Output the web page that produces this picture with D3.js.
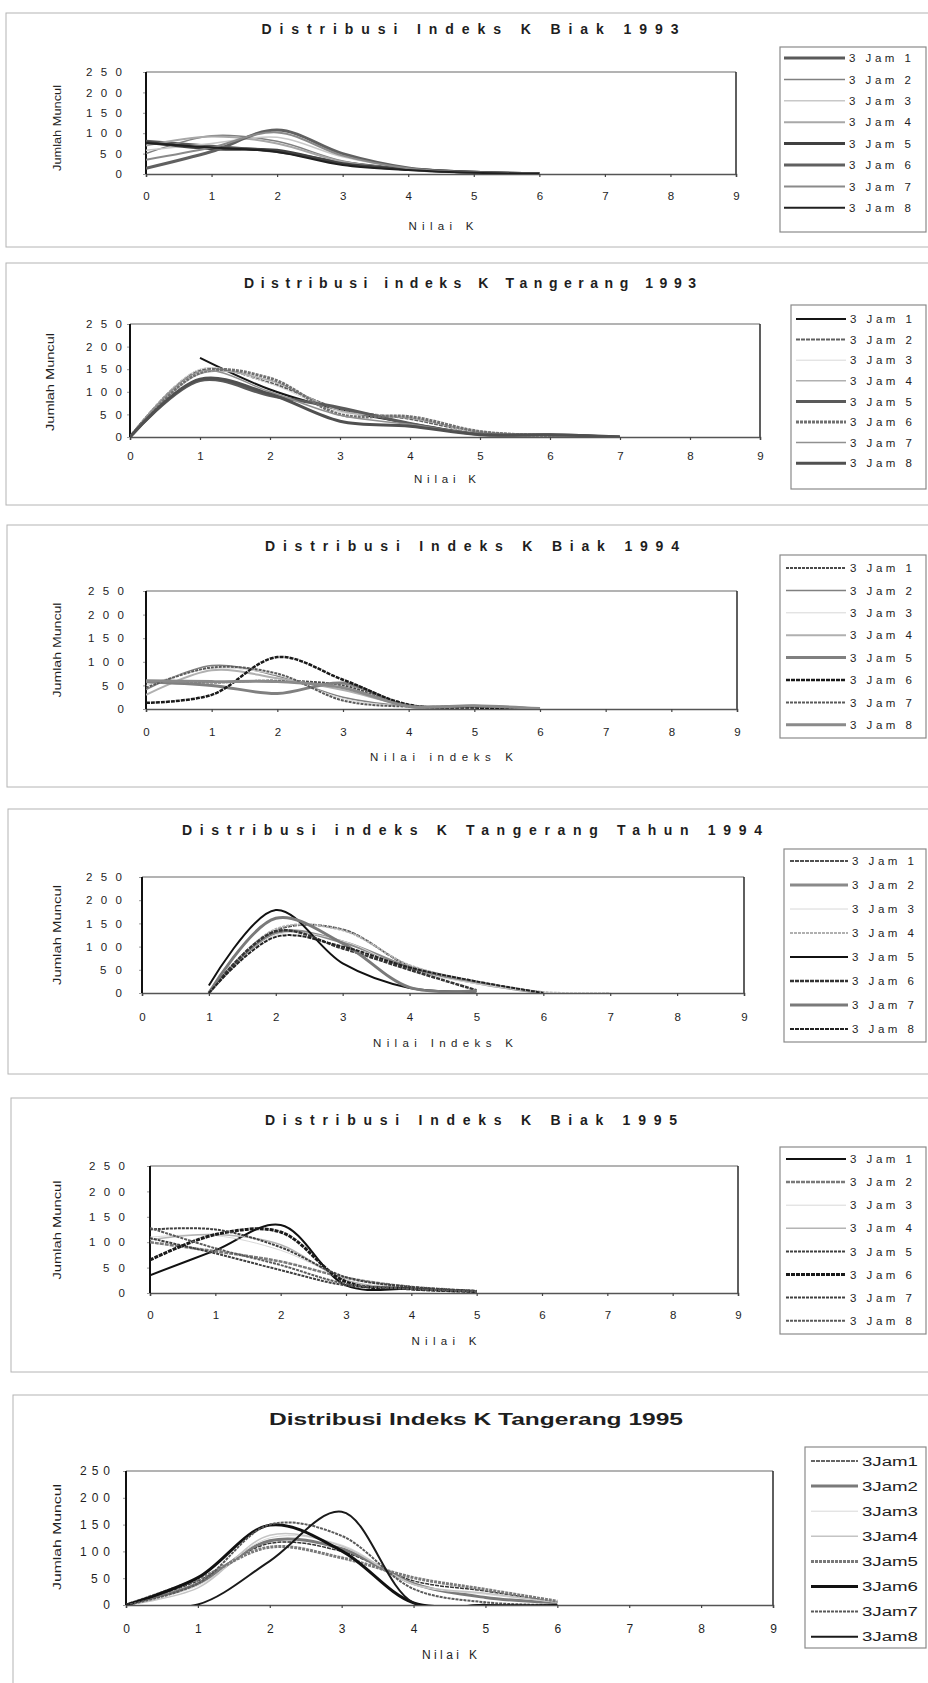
<!DOCTYPE html>
<html><head><meta charset="utf-8">
<script src="https://cdn.jsdelivr.net/npm/d3@7"></script>
<style>
body{margin:0;background:#fff;}
svg{display:block;}
text{font-family:"Liberation Sans",Arial,sans-serif;fill:#1e1e1e;}
</style></head><body>
<svg id="c" width="928" height="1683"></svg>
<script>
// ---------------- DATA ----------------
const kValues = [0,1,2,3,4,5,6,7,8,9];
const yTicks = [0,50,100,150,200,250];
const seriesNames = ["3 Jam 1","3 Jam 2","3 Jam 3","3 Jam 4","3 Jam 5","3 Jam 6","3 Jam 7","3 Jam 8"];
const seriesNamesCompact = ["3Jam1","3Jam2","3Jam3","3Jam4","3Jam5","3Jam6","3Jam7","3Jam8"];
const titles = [
  "Distribusi Indeks K Biak 1993",
  "Distribusi indeks K Tangerang 1993",
  "Distribusi Indeks K Biak 1994",
  "Distribusi indeks K Tangerang Tahun 1994",
  "Distribusi Indeks K Biak 1995",
  "Distribusi Indeks K Tangerang 1995"
];
const xTitles = ["Nilai K","Nilai K","Nilai indeks K","Nilai Indeks K","Nilai K","Nilai K"];
const yTitle = "Jumlah Muncul";

// values per series, index = K value (null = no point)
const biak1993 = [
  [80, 68, 55, 28, 12, 4, 1],
  [50, 94, 80, 32, 12, 3, 1],
  [58, 75, 90, 42, 14, 4, 1],
  [70, 92, 75, 30, 10, 3, 0],
  [78, 62, 58, 25, 12, 4, 1],
  [14, 55, 108, 50, 15, 4, 1],
  [35, 65, 102, 45, 14, 3, 1],
  [76, 65, 54, 22, 10, 3, 1]
];
const tangerang1993 = [
  [null, 175, 105, 60, 30, 6, 4, 0],
  [0, 148, 120, 62, 40, 10, 4, 0],
  [0, 150, 118, 55, 45, 8, 3, 0],
  [0, 140, 125, 58, 42, 12, 4, 0],
  [0, 125, 92, 65, 30, 6, 5, 0],
  [0, 142, 130, 50, 45, 12, 3, 0],
  [0, 145, 100, 48, 28, 6, 4, 0],
  [0, 128, 95, 35, 24, 5, 5, 0]
];
const biak1994 = [
  [58, 56, 60, 50, 8, 6, 0],
  [41, 92, 70, 25, 6, 4, 1],
  [50, 86, 72, 22, 6, 5, 0],
  [30, 82, 65, 40, 8, 6, 1],
  [58, 50, 33, 55, 6, 6, 0],
  [13, 30, 110, 62, 9, 3, 0],
  [45, 88, 75, 18, 5, 6, 0],
  [60, 58, 58, 45, 6, 7, 1]
];
const tangerang1994 = [
  [null, 0, 135, 137, 58, 24, 0],
  [null, 0, 130, 110, 55, 22, 0],
  [null, 0, 125, 112, 50, 20, 0],
  [null, 0, 138, 135, 60, 25, 2, 0],
  [null, 16, 179, 64, 11, 3],
  [null, 0, 133, 96, 50, 6],
  [null, 0, 161, 107, 12, 5],
  [null, 0, 121, 100, 55, 25, 0]
];
const biak1995 = [
  [35, 84, 134, 15, 8, 3],
  [100, 82, 62, 30, 12, 4],
  [110, 113, 84, 30, 10, 3],
  [105, 115, 95, 25, 10, 4],
  [108, 78, 45, 15, 10, 3],
  [65, 115, 120, 22, 8, 3],
  [125, 125, 90, 31, 12, 4],
  [128, 88, 55, 18, 8, 3]
];
const tangerang1995 = [
  [0, 45, 115, 100, 45, 26, 5],
  [0, 40, 120, 105, 40, 14, 4],
  [0, 36, 125, 112, 38, 20, 5],
  [0, 32, 130, 110, 39, 22, 5],
  [0, 48, 108, 88, 51, 29, 7],
  [0, 51, 149, 101, 4, 0],
  [0, 40, 150, 129, 30, 5, 0],
  [0, 1, 82, 174, 4, 0, 0]
];

// ---------------- STYLES ----------------
// [stroke, width, dash]
const styles = [
  [["#5a5a5a",3,null],["#808080",1.5,null],["#c8c8c8",1.5,null],["#a8a8a8",2,null],["#404040",3,null],["#606060",3,null],["#8a8a8a",2,null],["#202020",2,null]],
  [["#151515",2,null],["#606060",2,"4,1"],["#d8d8d8",1,null],["#b0b0b0",1.5,null],["#5a5a5a",3,null],["#707070",3,"3,1"],["#909090",1.5,null],["#505050",3,null]],
  [["#4a4a4a",2,"3,1"],["#808080",1.5,null],["#d8d8d8",1,null],["#b0b0b0",2,null],["#808080",3,null],["#1a1a1a",2.5,"4,1"],["#5a5a5a",2,"3,1"],["#8a8a8a",3,null]],
  [["#505050",2,"4,1"],["#8a8a8a",3,null],["#d8d8d8",1,null],["#b0b0b0",2,"3,1"],["#111111",2,null],["#333333",2.5,"4,1"],["#7a7a7a",3,null],["#222222",2,"4,1"]],
  [["#111111",2,null],["#7a7a7a",2.5,"4,1"],["#d8d8d8",1,null],["#b4b4b4",1.5,null],["#404040",2,"3,1"],["#1a1a1a",3,"4,1"],["#404040",2,"3,1"],["#5a5a5a",2,"3,1"]],
  [["#333333",1.5,"4,1"],["#7a7a7a",3,null],["#d8d8d8",1,null],["#c4c4c4",1.5,null],["#7a7a7a",3,"3,1"],["#111111",3,null],["#5a5a5a",2,"3,1"],["#1a1a1a",2,null]]
];

// ---------------- LAYOUT ----------------
const layout = [
  {box:{x:6,y:13,h:234}, x0:146,x1:736,yT:72,yB:174, tCx:470,tY:34,tW:417, tickCY:196, yTickR:122, xtY:230,xtW:65, ylX:57,ylCY:128,ylW:86,
   leg:{x:780,y:47,h:185,y0:58,dy:21.4,lx0:784,lx1:845,tx:849,tw:62}},
  {box:{x:6,y:263,h:242}, x0:130,x1:760,yT:324,yB:437, tCx:470,tY:288,tW:452, tickCY:456, yTickR:122, xtY:483,xtW:62, ylX:50,ylCY:382,ylW:98,
   leg:{x:791,y:305,h:184,y0:319,dy:20.6,lx0:796,lx1:846,tx:850,tw:62}},
  {box:{x:7,y:525,h:262}, x0:146,x1:737,yT:591,yB:709, tCx:472,tY:551,tW:414, tickCY:732, yTickR:124, xtY:761,xtW:143, ylX:57,ylCY:650,ylW:95,
   leg:{x:780,y:555,h:183,y0:568,dy:22.4,lx0:786,lx1:846,tx:850,tw:62}},
  {box:{x:8,y:809,h:265}, x0:142,x1:744,yT:877,yB:993, tCx:472,tY:835,tW:580, tickCY:1017, yTickR:122, xtY:1047,xtW:140, ylX:57,ylCY:935,ylW:100,
   leg:{x:784,y:849,h:193,y0:861,dy:24,lx0:790,lx1:848,tx:852,tw:62}},
  {box:{x:11,y:1098,h:274}, x0:150,x1:738,yT:1166,yB:1293, tCx:471,tY:1125,tW:412, tickCY:1315, yTickR:125, xtY:1345,xtW:65, ylX:57,ylCY:1230,ylW:99,
   leg:{x:780,y:1147,h:187,y0:1159,dy:23.1,lx0:786,lx1:846,tx:850,tw:62}},
  {box:{x:13,y:1395,h:320}, x0:126,x1:773,yT:1471,yB:1605, tCx:476,tY:1425,tW:414, tickCY:1629, yTickR:110, xtY:1659,xtW:55, ylX:57,ylCY:1537,ylW:106,
   leg:{x:805,y:1447,h:201,y0:1461,dy:25.1,lx0:811,lx1:858,tx:862,tw:56}}
];

const datasets = [biak1993, tangerang1993, biak1994, tangerang1994, biak1995, tangerang1995];

// ---------------- DRAW ----------------
const svg = d3.select("#c");
svg.append("rect").attr("width",928).attr("height",1683).attr("fill","#fff");
const narrow = '"Liberation Sans Narrow","DejaVu Sans Condensed","Liberation Sans",sans-serif';

datasets.forEach((data, p) => {
  const L = layout[p];
  const modern = (p === 5);
  const g = svg.append("g");

  // outer panel frame
  g.append("rect").attr("x", L.box.x).attr("y", L.box.y)
    .attr("width", 940 - L.box.x).attr("height", L.box.h)
    .attr("fill","none").attr("stroke","#b4b4b4").attr("stroke-width",1);

  // title
  g.append("text").attr("x", L.tCx).attr("y", L.tY).attr("text-anchor","middle")
    .attr("font-weight","bold")
    .attr("font-size", modern ? 16 : 14)
    .attr("font-family", modern ? narrow : null)
    .attr("textLength", L.tW)
    .attr("lengthAdjust", modern ? "spacingAndGlyphs" : "spacing")
    .text(titles[p]);

  const x = d3.scaleLinear().domain([0, 9]).range([L.x0, L.x1]);
  const y = d3.scaleLinear().domain([0, 250]).range([L.yB, L.yT]);

  // plot frame: top gray, right dark
  g.append("line").attr("x1",L.x0).attr("x2",L.x1).attr("y1",y(250)).attr("y2",y(250))
    .attr("stroke","#9a9a9a").attr("stroke-width",1.5);
  g.append("line").attr("x1",L.x1).attr("x2",L.x1).attr("y1",y(250)).attr("y2",y(0))
    .attr("stroke","#2a2a2a").attr("stroke-width",1.5);

  // x axis
  const fs = modern ? 12 : 11.5;
  const xAxis = d3.axisBottom(x).tickValues(kValues).tickSize(3).tickPadding(6);
  const gx = g.append("g").attr("transform", `translate(0,${L.yB})`).call(xAxis);
  gx.select(".domain").attr("stroke","#555").attr("stroke-width",1.5);
  gx.selectAll(".tick line").attr("stroke","#444").attr("stroke-width",1.2);
  gx.selectAll(".tick text").attr("font-size", fs).attr("fill","#222")
    .attr("font-family", modern ? '"Liberation Sans",sans-serif' : null)
    .attr("dy", null).attr("y", L.tickCY - L.yB + 0.36*fs);

  // y axis
  const yAxis = d3.axisLeft(y).tickValues(yTicks).tickSize(3).tickPadding(L.x0 - 3 - L.yTickR);
  const gy = g.append("g").attr("transform", `translate(${L.x0},0)`).call(yAxis);
  gy.select(".domain").remove();
  gy.selectAll(".tick line").attr("stroke","#999").attr("stroke-width",1);
  gy.selectAll(".tick text").attr("font-size", fs).attr("fill","#222")
    .each(function(d){
      const s = String(d);
      if (s.length > 1) {
        const w = modern ? (s.length === 3 ? 30 : 19) : (s.length === 3 ? 36 : 22);
        d3.select(this).attr("textLength", w).attr("lengthAdjust","spacing");
      }
    });
  g.append("line").attr("x1",L.x0).attr("x2",L.x0).attr("y1",y(250)).attr("y2",y(0))
    .attr("stroke","#111").attr("stroke-width",2);

  // axis titles
  g.append("text").attr("x",(L.x0+L.x1)/2).attr("y",L.xtY).attr("text-anchor","middle")
    .attr("font-size", modern ? 12 : 11.5)
    .attr("textLength", L.xtW).attr("lengthAdjust","spacing")
    .text(xTitles[p]);
  g.append("text").attr("transform",`translate(${L.ylX},${L.ylCY}) rotate(-90)`)
    .attr("text-anchor","middle").attr("dy","0.35em")
    .attr("font-size", 11).attr("font-family", narrow)
    .attr("textLength", L.ylW).attr("lengthAdjust","spacingAndGlyphs")
    .text(yTitle);

  // clip
  const cid = "clip" + p;
  svg.append("clipPath").attr("id", cid).append("rect")
    .attr("x", L.x0).attr("y", y(250) - 2).attr("width", L.x1 - L.x0).attr("height", y(0) - y(250) + 2);

  const lineGen = d3.line()
    .defined(d => d != null)
    .x((d, i) => x(kValues[i]))
    .y(d => y(d))
    .curve(d3.curveCatmullRom.alpha(0.5));

  const st = styles[p];
  g.append("g").attr("clip-path", `url(#${cid})`)
    .selectAll("path").data(data).join("path")
    .attr("d", d => lineGen(d))
    .attr("fill","none")
    .attr("stroke", (d,i) => st[i][0])
    .attr("stroke-width", (d,i) => st[i][1])
    .attr("stroke-dasharray", (d,i) => st[i][2])
    .attr("stroke-linejoin","round");

  // legend
  const lg = L.leg;
  g.append("rect").attr("x", lg.x).attr("y", lg.y).attr("width", 926 - lg.x).attr("height", lg.h)
    .attr("fill","#fff").attr("stroke","#8a8a8a").attr("stroke-width",1.2);
  const names = modern ? seriesNamesCompact : seriesNames;
  names.forEach((nm, i) => {
    const yy = lg.y0 + i * lg.dy;
    g.append("line").attr("x1", lg.lx0).attr("x2", lg.lx1).attr("y1", yy).attr("y2", yy)
      .attr("stroke", st[i][0]).attr("stroke-width", st[i][1]).attr("stroke-dasharray", st[i][2]);
    g.append("text").attr("x", lg.tx).attr("y", yy).attr("dy","0.36em")
      .attr("font-size", modern ? 12.5 : 11.5)
      .attr("font-family", modern ? narrow : null)
      .attr("textLength", lg.tw).attr("lengthAdjust", modern ? "spacingAndGlyphs" : "spacing")
      .text(nm);
  });
});
</script>
</body></html>
